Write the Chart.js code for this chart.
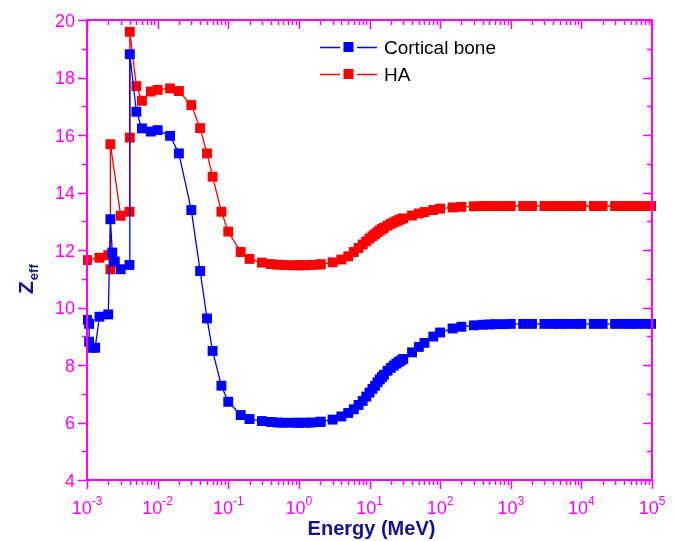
<!DOCTYPE html>
<html>
<head>
<meta charset="utf-8">
<script src="https://cdn.jsdelivr.net/npm/chart.js@4.4.1/dist/chart.umd.min.js"></script>
<style>
    html, body { margin: 0; padding: 0; background: #fff; }
    #wrap { width: 676px; height: 541px; position: relative; }
</style>
</head>
<body>
<div id="wrap"><canvas id="zeffChart"></canvas></div>
<script>
// ---- DATOS ----
const boneEnergy = [
    1e-3, 1.0721e-3, 1.0721e-3, 1.165e-3, 1.305e-3, 1.5e-3, 2e-3, 2.1455e-3, 2.28e-3, 2.472e-3,
    3e-3, 4e-3, 4.0381e-3, 5e-3, 6e-3, 8e-3, 1e-2, 1.5e-2, 2e-2, 3e-2,
    4e-2, 5e-2, 6e-2, 8e-2, 0.1, 0.15, 0.2, 0.3, 0.4, 0.5,
    0.6, 0.8, 1, 1.022, 1.25, 1.5, 2, 2.044, 3, 4,
    5, 6, 7, 8, 9, 10, 11, 12, 13, 14,
    15, 16, 18, 20, 22, 24, 26, 28, 30, 40,
    50, 60, 80, 100, 150, 200, 300, 400, 500, 600,
    800, 1000, 1500, 2000, 3000, 4000, 5000, 6000, 8000, 1e4,
    1.5e4, 2e4, 3e4, 4e4, 5e4, 6e4, 8e4, 1e5
];
const boneZeff = [
    9.57, 9.43, 8.81, 8.60, 8.60, 9.68, 9.76, 13.07, 11.91, 11.60,
    11.33, 11.48, 18.81, 16.81, 16.23, 16.12, 16.17, 15.97, 15.36, 13.39,
    11.27, 9.62, 8.49, 7.28, 6.72, 6.26, 6.12, 6.05, 6.02, 6.00,
    5.99, 5.99, 5.99, 5.99, 5.99, 6.00, 6.02, 6.03, 6.10, 6.21,
    6.33, 6.46, 6.61, 6.75, 6.90, 7.04, 7.17, 7.28, 7.40, 7.50,
    7.58, 7.66, 7.80, 7.90, 7.98, 8.05, 8.11, 8.16, 8.21, 8.44,
    8.63, 8.77, 8.99, 9.13, 9.27, 9.33, 9.38, 9.40, 9.41, 9.42,
    9.42, 9.43, 9.43, 9.43, 9.43, 9.43, 9.43, 9.43, 9.43, 9.43,
    9.43, 9.43, 9.43, 9.43, 9.43, 9.43, 9.43, 9.43
];

const haEnergy = [
    1e-3, 1.5e-3, 2e-3, 2.1455e-3, 2.1455e-3, 3e-3, 4e-3, 4.0381e-3, 4.0381e-3, 5e-3,
    6e-3, 8e-3, 1e-2, 1.5e-2, 2e-2, 3e-2, 4e-2, 5e-2, 6e-2, 8e-2,
    0.1, 0.15, 0.2, 0.3, 0.4, 0.5, 0.6, 0.8, 1, 1.022,
    1.25, 1.5, 2, 2.044, 3, 4, 5, 6, 7, 8,
    9, 10, 11, 12, 13, 14, 15, 16, 18, 20,
    22, 24, 26, 28, 30, 40, 50, 60, 80, 100,
    150, 200, 300, 400, 500, 600, 800, 1000, 1500, 2000,
    3000, 4000, 5000, 6000, 8000, 1e4, 1.5e4, 2e4, 3e4, 4e4,
    5e4, 6e4, 8e4, 1e5
];
const haZeff = [
    11.65, 11.73, 11.82, 11.33, 15.68, 13.19, 13.33, 15.91, 19.59, 17.70,
    17.19, 17.51, 17.57, 17.62, 17.53, 17.04, 16.24, 15.36, 14.55, 13.33,
    12.64, 11.93, 11.69, 11.56, 11.51, 11.49, 11.48, 11.47, 11.47, 11.47,
    11.47, 11.48, 11.50, 11.50, 11.57, 11.67, 11.78, 11.93, 12.07, 12.19,
    12.30, 12.40, 12.48, 12.55, 12.62, 12.68, 12.73, 12.77, 12.85, 12.91,
    12.96, 13.00, 13.04, 13.07, 13.10, 13.20, 13.27, 13.32, 13.39, 13.44,
    13.48, 13.50, 13.52, 13.53, 13.53, 13.53, 13.53, 13.53, 13.53, 13.53,
    13.53, 13.53, 13.53, 13.53, 13.53, 13.53, 13.53, 13.53, 13.53, 13.53,
    13.53, 13.53, 13.53, 13.53
];

const seriesLabels = ['Cortical bone', 'HA'];
const seriesColors = ['#0000FF', '#FF0000'];

// ticks
const xExponents = [-3, -2, -1, 0, 1, 2, 3, 4, 5];
const yTickValues = [4, 6, 8, 10, 12, 14, 16, 18, 20];

const axisColor = '#FF00FF';
const titleColor = '#14148A';

// ---- MARCO, EJES Y LEYENDA ----
const framePlugin = {
    id: 'frame',
    afterDatasetsDraw(chart) {
        const { ctx, chartArea: a, scales: { x, y } } = chart;
        ctx.save();

        // borde
        ctx.strokeStyle = axisColor;
        ctx.lineWidth = 2;
        ctx.strokeRect(a.left, a.top, a.right - a.left, a.bottom - a.top);

        // ticks eje x (afuera abajo, adentro arriba)
        ctx.lineWidth = 1.5;
        ctx.beginPath();
        xExponents.forEach(p => {
            for (let k = 1; k <= 9; k++) {
                const v = k * Math.pow(10, p);
                if (v > 1e5 * 1.0001) break;
                const px = Math.round(x.getPixelForValue(v)) + 0.5;
                const len = k === 1 ? 9 : 5;
                ctx.moveTo(px, a.bottom);
                ctx.lineTo(px, a.bottom + len);
                ctx.moveTo(px, a.top);
                ctx.lineTo(px, a.top + len);
            }
        });
        // ticks eje y (afuera izquierda, adentro derecha)
        for (let v = 4; v <= 20; v++) {
            const py = Math.round(y.getPixelForValue(v)) + 0.5;
            const len = v % 2 === 0 ? 9 : 5;
            ctx.moveTo(a.left, py);
            ctx.lineTo(a.left - len, py);
            ctx.moveTo(a.right, py);
            ctx.lineTo(a.right - len, py);
        }
        ctx.stroke();

        // etiquetas
        ctx.fillStyle = axisColor;
        ctx.textBaseline = 'alphabetic';
        ctx.font = '18px Arial, "Liberation Sans", sans-serif';
        ctx.textAlign = 'right';
        yTickValues.forEach(v => {
            ctx.fillText(String(v), a.left - 12, y.getPixelForValue(v) + 6.5);
        });

        xExponents.forEach(p => {
            const px = x.getPixelForValue(Math.pow(10, p));
            ctx.font = '18px Arial, "Liberation Sans", sans-serif';
            const baseW = ctx.measureText('10').width;
            ctx.font = '12px Arial, "Liberation Sans", sans-serif';
            const expW = ctx.measureText(String(p)).width;
            const start = px - (baseW + expW) / 2;
            ctx.textAlign = 'left';
            ctx.font = '18px Arial, "Liberation Sans", sans-serif';
            ctx.fillText('10', start, 514);
            ctx.font = '12px Arial, "Liberation Sans", sans-serif';
            ctx.fillText(String(p).replace('-', '\u2011'), start + baseW, 505);
        });

        // titulos
        ctx.fillStyle = titleColor;
        ctx.font = 'bold 20px Arial, "Liberation Sans", sans-serif';
        ctx.textAlign = 'center';
        ctx.fillText('Energy (MeV)', (a.left + a.right) / 2 + 2, 535);

        ctx.save();
        ctx.translate(33, 294);
        ctx.rotate(-Math.PI / 2);
        ctx.textAlign = 'left';
        ctx.font = 'bold 21px Arial, "Liberation Sans", sans-serif';
        ctx.fillText('Z', 0, 0);
        const zW = ctx.measureText('Z').width;
        ctx.font = 'bold 13px Arial, "Liberation Sans", sans-serif';
        ctx.fillText('eff', zW + 1, 5);
        ctx.restore();

        // leyenda
        const rows = [47, 74];
        rows.forEach((ry, i) => {
            ctx.strokeStyle = seriesColors[i];
            ctx.lineWidth = 1.3;
            ctx.beginPath();
            ctx.moveTo(320, ry + 0.5);
            ctx.lineTo(340, ry + 0.5);
            ctx.moveTo(357, ry + 0.5);
            ctx.lineTo(377, ry + 0.5);
            ctx.stroke();
            ctx.fillStyle = seriesColors[i];
            ctx.fillRect(343.5, ry - 5, 10, 10);
            ctx.fillStyle = '#000';
            ctx.font = '19px Arial, "Liberation Sans", sans-serif';
            ctx.textAlign = 'left';
            ctx.fillText(seriesLabels[i], 384, ry + 7);
        });

        ctx.restore();
    }
};

function makeSeries(energy, zeff, i) {
    return {
        label: seriesLabels[i],
        data: energy.map((e, k) => ({ x: e, y: zeff[k] })),
        borderColor: seriesColors[i],
        backgroundColor: seriesColors[i],
        borderWidth: 1.3,
        pointStyle: 'rect',
        pointRadius: 7,
        pointHoverRadius: 7,
        pointBorderWidth: 0,
        tension: 0,
        clip: 4
    };
}

const ctx = document.getElementById('zeffChart');
new Chart(ctx, {
    type: 'line',
    data: {
        datasets: [
            makeSeries(boneEnergy, boneZeff, 0),
            makeSeries(haEnergy, haZeff, 1)
        ]
    },
    options: {
        responsive: true,
        maintainAspectRatio: false,
        animation: false,
        events: [],
        layout: { padding: { top: 20, right: 24, left: 0, bottom: 0 } },
        plugins: {
            legend: { display: false },
            title: { display: false },
            tooltip: { enabled: false }
        },
        scales: {
            x: {
                type: 'logarithmic',
                min: 1e-3,
                max: 1e5,
                ticks: { display: false },
                grid: { display: false },
                border: { display: false },
                afterFit: s => { s.height = 61; }
            },
            y: {
                type: 'linear',
                min: 4,
                max: 20,
                ticks: { display: false },
                grid: { display: false },
                border: { display: false },
                afterFit: s => { s.width = 87; }
            }
        }
    },
    plugins: [framePlugin]
});
</script>
</body>
</html>
